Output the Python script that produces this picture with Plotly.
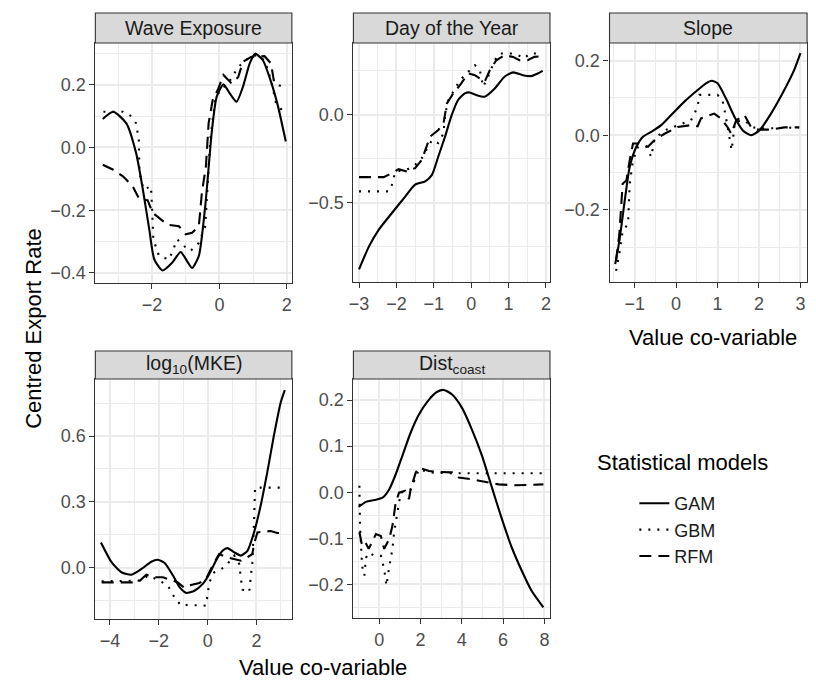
import plotly.graph_objects as go

# ---------------- data ----------------
# Wave Exposure
wave_x_gam = [-3.46, -3.15, -2.76, -2.47, -2.27, -2.08, -1.93, -1.69, -1.40, -1.15, -0.96, -0.81, -0.61, -0.42, -0.22, -0.08, 0.12, 0.31, 0.51, 0.70, 0.90, 1.06, 1.29, 1.53, 1.73, 1.97]
wave_y_gam = [0.091, 0.114, 0.077, -0.018, -0.134, -0.261, -0.357, -0.392, -0.367, -0.333, -0.362, -0.384, -0.346, -0.187, 0.056, 0.162, 0.201, 0.172, 0.146, 0.194, 0.268, 0.299, 0.278, 0.21, 0.135, 0.019]
wave_x_gbm = [-3.44, -2.86, -2.66, -2.47, -2.39, -2.37, -2.25, -2.03, -2.0, -1.96, -1.79, -1.49, -1.25, -1.05, -0.86, -0.61, -0.42, -0.37, -0.27, -0.13, 0.02, 0.26, 0.56, 0.85, 1.09, 1.34, 1.53, 1.68, 1.92]
wave_y_gbm = [0.114, 0.114, 0.104, 0.077, 0.024, -0.081, -0.134, -0.124, -0.187, -0.293, -0.346, -0.357, -0.293, -0.314, -0.330, -0.304, -0.251, -0.166, 0.024, 0.151, 0.183, 0.204, 0.257, 0.284, 0.294, 0.278, 0.215, 0.141, 0.111]
wave_x_rfm = [-3.46, -3.15, -2.86, -2.57, -2.37, -2.13, -1.98, -1.79, -1.54, -1.20, -1.00, -0.81, -0.61, -0.52, -0.40, -0.32, -0.20, -0.03, 0.12, 0.36, 0.56, 0.70, 0.95, 1.34, 1.53, 1.63, 1.82]
wave_y_rfm = [-0.055, -0.071, -0.092, -0.124, -0.166, -0.168, -0.208, -0.224, -0.246, -0.251, -0.277, -0.272, -0.251, -0.145, -0.060, 0.077, 0.151, 0.188, 0.231, 0.204, 0.225, 0.273, 0.289, 0.291, 0.268, 0.204, 0.196]

# Day of the Year
day_x_gam = [-3.0, -2.73, -2.47, -2.12, -1.76, -1.50, -1.23, -1.05, -0.88, -0.70, -0.52, -0.35, -0.17, -0.04, 0.14, 0.36, 0.63, 0.89, 1.12, 1.38, 1.60, 1.78, 1.91]
day_y_gam = [-0.877, -0.745, -0.651, -0.557, -0.462, -0.396, -0.377, -0.340, -0.236, -0.123, 0.0, 0.085, 0.123, 0.128, 0.113, 0.104, 0.151, 0.217, 0.242, 0.226, 0.221, 0.236, 0.251]
day_x_gbm = [-3.0, -2.20, -2.12, -2.03, -1.72, -1.50, -1.32, -1.05, -0.88, -0.74, -0.70, -0.61, -0.43, -0.30, -0.08, 0.10, 0.23, 0.32, 0.45, 0.63, 0.76, 1.07, 1.25, 1.42, 1.56, 1.87]
day_y_gbm = [-0.434, -0.434, -0.396, -0.321, -0.311, -0.283, -0.245, -0.142, -0.160, -0.104, 0.0, 0.085, 0.151, 0.198, 0.245, 0.283, 0.255, 0.160, 0.217, 0.311, 0.349, 0.349, 0.340, 0.321, 0.349, 0.349]
day_x_rfm = [-3.0, -2.34, -2.12, -1.94, -1.72, -1.50, -1.32, -1.10, -0.88, -0.74, -0.65, -0.48, -0.30, -0.08, 0.10, 0.27, 0.36, 0.50, 0.67, 0.89, 1.12, 1.29, 1.51, 1.69, 1.91]
day_y_rfm = [-0.353, -0.353, -0.330, -0.308, -0.321, -0.302, -0.255, -0.123, -0.085, -0.047, 0.066, 0.123, 0.170, 0.236, 0.226, 0.202, 0.189, 0.255, 0.311, 0.340, 0.330, 0.311, 0.311, 0.330, 0.334]

# Slope
slope_x_gam = [-1.47, -1.37, -1.24, -1.12, -0.96, -0.80, -0.60, -0.36, -0.12, 0.20, 0.52, 0.72, 0.86, 1.0, 1.20, 1.41, 1.61, 1.81, 2.01, 2.29, 2.61, 2.85, 3.0]
slope_y_gam = [-0.345, -0.283, -0.175, -0.085, -0.031, -0.004, 0.009, 0.027, 0.054, 0.090, 0.121, 0.139, 0.146, 0.139, 0.099, 0.049, 0.013, 0.0, 0.013, 0.058, 0.121, 0.175, 0.220]
slope_x_gbm = [-1.45, -1.37, -1.29, -1.16, -1.12, -1.04, -0.92, -0.72, -0.60, -0.52, -0.28, 0.12, 0.36, 0.52, 0.56, 1.0, 1.12, 1.20, 1.29, 1.34, 1.42, 1.65, 1.85, 2.13, 2.97]
slope_y_gbm = [-0.363, -0.318, -0.256, -0.238, -0.130, -0.067, -0.031, -0.031, -0.058, -0.009, 0.013, 0.031, 0.040, 0.076, 0.108, 0.108, 0.094, 0.049, -0.004, -0.040, 0.036, 0.040, 0.021, 0.018, 0.021]
slope_x_rfm = [-1.45, -1.37, -1.29, -1.20, -1.12, -1.04, -0.92, -0.68, -0.52, -0.28, 0.04, 0.36, 0.52, 0.60, 0.92, 1.08, 1.24, 1.33, 1.45, 1.65, 1.81, 1.97, 2.29, 2.61, 2.97]
slope_y_rfm = [-0.336, -0.265, -0.130, -0.121, -0.067, -0.022, -0.022, -0.031, -0.013, 0.004, 0.022, 0.027, 0.024, 0.045, 0.058, 0.045, 0.022, 0.004, 0.040, 0.054, 0.022, 0.015, 0.015, 0.021, 0.021]

# log10(MKE)
mke_x_gam = [-4.37, -3.93, -3.53, -3.12, -2.71, -2.31, -2.04, -1.76, -1.42, -1.15, -0.88, -0.54, -0.20, 0.07, 0.34, 0.61, 0.81, 1.09, 1.36, 1.63, 1.90, 2.17, 2.44, 2.71, 2.99, 3.16]
mke_y_gam = [0.115, 0.024, -0.021, -0.032, -0.006, 0.027, 0.036, 0.021, -0.036, -0.089, -0.115, -0.105, -0.074, -0.029, 0.032, 0.077, 0.089, 0.070, 0.055, 0.077, 0.161, 0.282, 0.433, 0.600, 0.752, 0.809]
mke_x_gbm = [-4.34, -3.39, -2.71, -2.44, -2.04, -1.63, -1.36, -1.09, -0.88, -0.07, 0.07, 0.27, 0.54, 0.81, 1.09, 1.29, 1.36, 1.42, 1.70, 1.76, 1.83, 1.90, 1.94, 3.12]
mke_y_gbm = [-0.062, -0.062, -0.059, -0.036, -0.055, -0.082, -0.135, -0.173, -0.170, -0.173, -0.067, -0.021, -0.009, 0.017, 0.055, 0.017, -0.052, -0.100, -0.112, -0.036, 0.024, 0.206, 0.365, 0.365]
mke_x_rfm = [-4.34, -2.85, -2.51, -2.17, -1.83, -1.49, -1.22, -0.95, -0.68, -0.34, -0.07, 0.20, 0.47, 0.81, 1.09, 1.36, 1.63, 1.83, 1.90, 2.04, 2.58, 2.85, 3.12]
mke_y_rfm = [-0.067, -0.067, -0.032, -0.044, -0.044, -0.055, -0.067, -0.092, -0.079, -0.070, -0.052, 0.009, 0.062, 0.047, 0.039, 0.032, 0.047, 0.062, 0.108, 0.161, 0.167, 0.158, 0.158]

# Dist_coast
dist_x_gam = [-1.0, -0.64, -0.24, 0.16, 0.48, 0.80, 1.12, 1.52, 1.93, 2.41, 2.81, 3.13, 3.53, 4.01, 4.49, 4.98, 5.46, 5.94, 6.42, 6.90, 7.38, 7.95]
dist_y_gam = [-0.032, -0.021, -0.017, -0.012, 0.006, 0.039, 0.079, 0.129, 0.169, 0.201, 0.218, 0.222, 0.212, 0.183, 0.136, 0.079, 0.010, -0.058, -0.120, -0.170, -0.214, -0.250]
dist_x_gbm = [-0.96, -0.93, -0.83, -0.72, -0.64, -0.48, -0.24, 0.08, 0.24, 0.35, 0.48, 0.64, 0.72, 0.88, 1.04, 1.52, 1.77, 1.93, 2.41, 3.37, 7.95]
dist_y_gbm = [0.014, -0.073, -0.160, -0.181, -0.142, -0.131, -0.138, -0.138, -0.167, -0.203, -0.163, -0.123, -0.087, -0.044, -0.001, 0.006, 0.035, 0.050, 0.043, 0.041, 0.041]
dist_x_rfm = [-0.96, -0.83, -0.67, -0.51, -0.16, 0.08, 0.24, 0.48, 0.64, 0.80, 0.96, 1.25, 1.44, 1.52, 1.77, 1.93, 2.41, 2.89, 3.53, 3.85, 4.49, 5.30, 5.78, 6.58, 7.95]
dist_y_rfm = [-0.087, -0.116, -0.109, -0.123, -0.091, -0.095, -0.123, -0.102, -0.073, -0.022, -0.001, 0.003, -0.015, 0.006, 0.043, 0.053, 0.046, 0.044, 0.043, 0.032, 0.028, 0.022, 0.017, 0.015, 0.017]

model_names = ["GAM", "GBM", "RFM"]
panel_titles = ["Wave Exposure", "Day of the Year", "Slope", "log<sub>10</sub>(MKE)", "Dist<sub>coast</sub>"]

# ---------------- layout helpers ----------------
W, H = 816, 681
def px(x):
    return x / W
def py(y):
    return 1 - y / H

panels = [
    dict(box=(91, 289, 43, 283), xr=[-3.68, 2.15], yr=[-0.432, 0.333], xd=2, yd=0.2,
         data=[(wave_x_gam, wave_y_gam), (wave_x_gbm, wave_y_gbm), (wave_x_rfm, wave_y_rfm)]),
    dict(box=(351, 549, 43, 282), xr=[-3.15, 2.106], yr=[-0.949, 0.409], xd=1, yd=0.5,
         data=[(day_x_gam, day_y_gam), (day_x_gbm, day_y_gbm), (day_x_rfm, day_y_rfm)]),
    dict(box=(609, 808, 43, 282), xr=[-1.607, 3.16], yr=[-0.393, 0.247], xd=1, yd=0.2,
         data=[(slope_x_gam, slope_y_gam), (slope_x_gbm, slope_y_gbm), (slope_x_rfm, slope_y_rfm)]),
    dict(box=(91, 289, 379, 619), xr=[-4.6, 3.45], yr=[-0.234, 0.86], xd=2, yd=0.3,
         data=[(mke_x_gam, mke_y_gam), (mke_x_gbm, mke_y_gbm), (mke_x_rfm, mke_y_rfm)]),
    dict(box=(351, 549, 379, 618), xr=[-1.25, 8.27], yr=[-0.273, 0.2457], xd=2, yd=0.1,
         data=[(dist_x_gam, dist_y_gam), (dist_x_gbm, dist_y_gbm), (dist_x_rfm, dist_y_rfm)]),
]

line_styles = [
    dict(color="black", width=2.1, dash="solid"),
    dict(color="black", width=2.1, dash="2px,7px"),
    dict(color="black", width=2.1, dash="12px,7px"),
]

FONT = "Liberation Sans, Arial, Helvetica, sans-serif"
GRID = "#EBEBEB"

fig = go.Figure()
layout = dict(
    width=W, height=H, autosize=False,
    margin=dict(l=0, r=0, t=0, b=0),
    paper_bgcolor="white", plot_bgcolor="white",
    font=dict(family=FONT, color="#1A1A1A"),
    showlegend=True,
    legend=dict(x=px(634), y=py(485), xanchor="left", yanchor="top",
                font=dict(size=18, color="#1A1A1A", family=FONT),
                bgcolor="rgba(0,0,0,0)", borderwidth=0, tracegroupgap=0),
)
shapes = []
annotations = []

for i, p in enumerate(panels):
    x0, x1, y0, y1 = p["box"]
    xa = "xaxis" if i == 0 else f"xaxis{i+1}"
    ya = "yaxis" if i == 0 else f"yaxis{i+1}"
    xref = "x" if i == 0 else f"x{i+1}"
    yref = "y" if i == 0 else f"y{i+1}"
    common = dict(showgrid=True, gridcolor=GRID, gridwidth=2, zeroline=False,
                  showline=True, linecolor="#333333", linewidth=1.1, mirror=True,
                  ticks="outside", ticklen=5, tickcolor="#333333", tickwidth=1.1,
                  tickfont=dict(size=18, color="#4D4D4D", family=FONT))
    layout[xa] = dict(common, domain=[px(x0), px(x1)], range=p["xr"], dtick=p["xd"], tick0=0,
                      anchor=yref, tickformat="d",
                      minor=dict(dtick=p["xd"] / 2, tick0=0, showgrid=True, gridcolor=GRID, gridwidth=1))
    layout[ya] = dict(common, domain=[py(y1), py(y0)], range=p["yr"], dtick=p["yd"], tick0=0,
                      anchor=xref, tickformat=".1f",
                      minor=dict(dtick=p["yd"] / 2, tick0=0, showgrid=True, gridcolor=GRID, gridwidth=1))
    for k, (xs, ys) in enumerate(p["data"]):
        fig.add_trace(go.Scatter(
            x=xs, y=ys, mode="lines", name=model_names[k], legendgroup=model_names[k],
            showlegend=(i == 0), line=dict(**line_styles[k], shape="spline" if k == 0 else "linear", smoothing=0.6),
            xaxis=xref, yaxis=yref, hoverinfo="skip"))
    sy0 = y0 - 30 if i < 3 else y0 - 28
    shapes.append(dict(type="rect", xref="paper", yref="paper",
                       x0=px(x0), x1=px(x1), y0=py(y0), y1=py(sy0),
                       fillcolor="#D9D9D9", line=dict(color="#333333", width=1.1), layer="above"))
    annotations.append(dict(text=panel_titles[i], xref="paper", yref="paper",
                            x=px((x0 + x1) / 2), y=py((y0 + sy0) / 2), xanchor="center", yanchor="middle",
                            showarrow=False, font=dict(size=19.5, color="#1A1A1A", family=FONT)))

annotations += [
    dict(text="Centred Export Rate", xref="paper", yref="paper", x=px(28), y=py(328),
         textangle=-90, showarrow=False, xanchor="center", yanchor="middle",
         font=dict(size=22, color="black", family=FONT)),
    dict(text="Value co-variable", xref="paper", yref="paper", x=px(320), y=py(667),
         showarrow=False, xanchor="center", yanchor="middle",
         font=dict(size=22, color="black", family=FONT)),
    dict(text="Value co-variable", xref="paper", yref="paper", x=px(713), y=py(337),
         showarrow=False, xanchor="center", yanchor="middle",
         font=dict(size=22, color="black", family=FONT)),
    dict(text="Statistical models", xref="paper", yref="paper", x=px(594), y=py(463),
         showarrow=False, xanchor="left", yanchor="middle",
         font=dict(size=22, color="black", family=FONT)),
]
layout["shapes"] = shapes
layout["annotations"] = annotations
fig.update_layout(**layout)
fig.write_html("out.html", config={"displayModeBar": False},
               post_script="document.body.style.margin='0px';document.body.style.padding='0px';")
